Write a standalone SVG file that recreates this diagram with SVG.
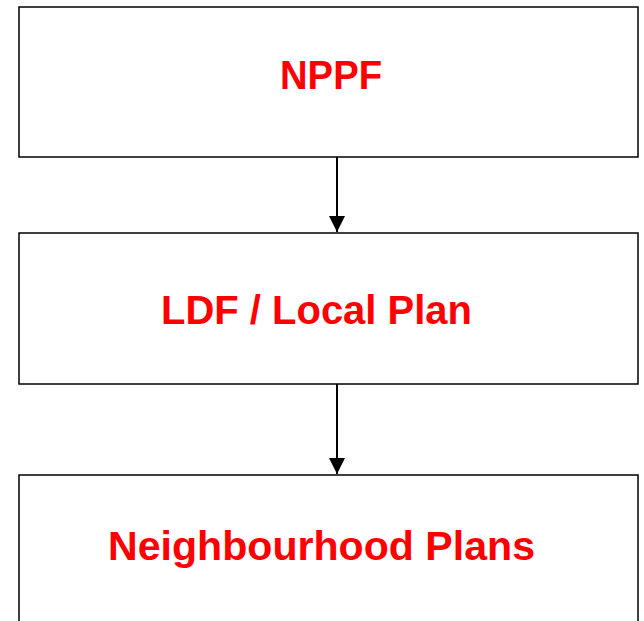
<svg xmlns="http://www.w3.org/2000/svg" width="644" height="621" viewBox="0 0 644 621">
<style>
.box{fill:#fff;stroke:#000;stroke-width:1.5}
.lbl{font-family:"Liberation Sans",Arial,sans-serif;font-weight:bold;font-size:40px;fill:#ff0000;text-anchor:middle}
.conn{stroke:#000;stroke-width:2;fill:none}
</style>
<defs>
<marker id="arr" markerUnits="userSpaceOnUse" markerWidth="16" markerHeight="16" refX="15" refY="7.5" orient="auto" viewBox="0 0 15 15">
<path d="M0,0 L15,7.5 L0,15 Z" fill="#000"/>
</marker>
</defs>
<rect width="644" height="621" fill="#fff"/>
<g id="node-nppf">
<rect class="box" x="19" y="7" width="619" height="150"/>
<text class="lbl" x="331" y="89" textLength="102" lengthAdjust="spacingAndGlyphs">NPPF</text>
</g>
<g id="node-ldf">
<rect class="box" x="19" y="233" width="619" height="151"/>
<text class="lbl" x="316.5" y="324" textLength="311" lengthAdjust="spacingAndGlyphs">LDF / Local Plan</text>
</g>
<g id="node-np">
<rect class="box" x="19" y="475" width="619" height="160"/>
<text class="lbl" x="321.5" y="560" textLength="427" lengthAdjust="spacingAndGlyphs">Neighbourhood Plans</text>
</g>
<g id="connectors">
<line class="conn" x1="337" y1="157" x2="337" y2="232" marker-end="url(#arr)"/>
<line class="conn" x1="337" y1="384" x2="337" y2="474" marker-end="url(#arr)"/>
</g>
</svg>
